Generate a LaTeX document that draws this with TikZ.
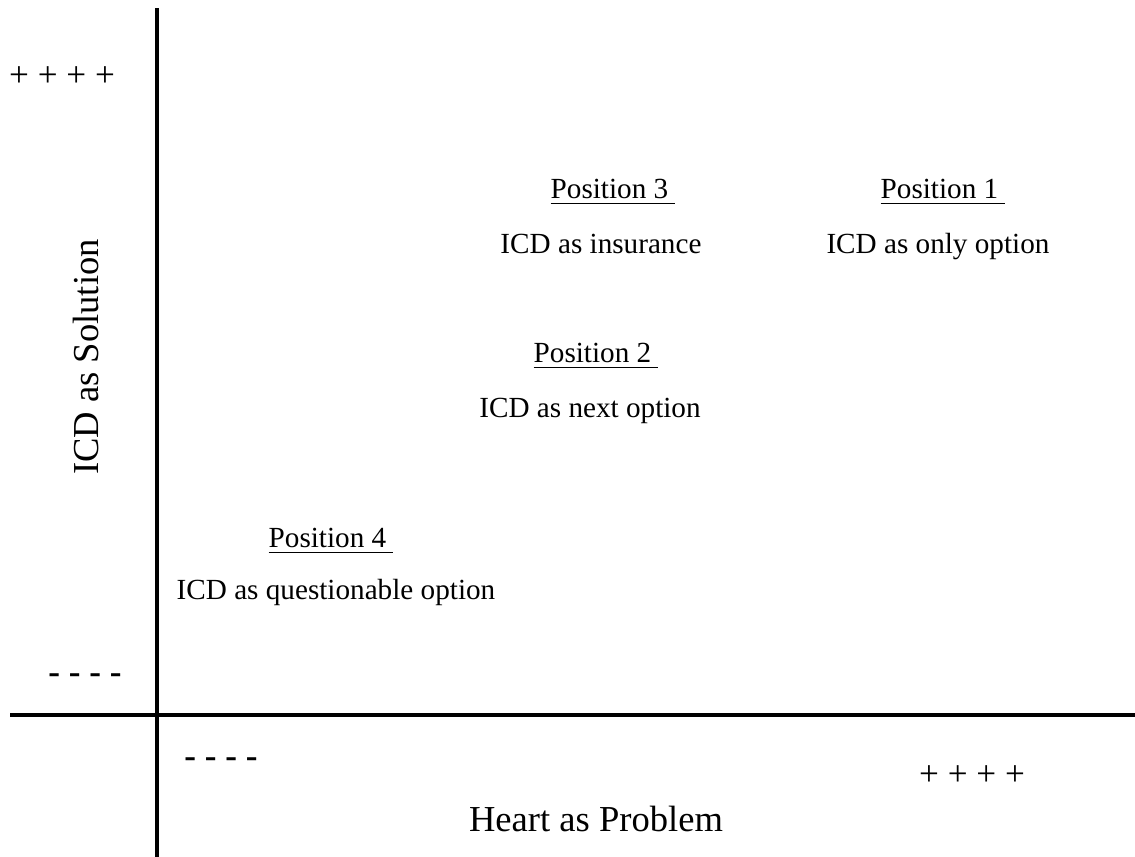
\documentclass[tikz,border=0pt]{standalone}
\usepackage{fontspec}
\setmainfont{Liberation Serif}
\begin{document}
\begin{tikzpicture}[x=0.01cm,y=-0.01cm,
  lbl/.style={inner sep=0pt,anchor=base,font=\fontsize{8.3}{10}\selectfont},
  big/.style={inner sep=0pt,font=\fontsize{10.4}{12}\selectfont},
  sym/.style={inner sep=0pt,font=\fontsize{10}{12}\selectfont},
  axis/.style={line width=0.95pt}]
\useasboundingbox (0,0) rectangle (1135,857);
\coordinate (vtop) at (157,8);
\coordinate (vbot) at (157,857);
\coordinate (hl) at (10,715);
\coordinate (hr) at (1135,715);
\draw[axis] (vtop) -- (vbot);
\draw[axis] (hl) -- (hr);
\node[sym] (pt) at (62,77) {+ + + +};
\node[sym] (pb) at (972,776) {+ + + +};
\node[sym,font=\fontsize{10}{12}\selectfont\bfseries] (mt) at (85,679) {- - - -};
\node[sym,font=\fontsize{10}{12}\selectfont\bfseries] (mb) at (221,763) {- - - -};
\node[big,rotate=90] (ylab) at (86,357) {ICD as Solution};
\node[big,anchor=base] (xlab) at (596,831) {Heart as Problem};
\node[lbl] (p3) at (613,198) {\underline{Position 3\hspace{2pt}}};
\node[lbl] (t3) at (601,253) {ICD as insurance};
\node[lbl] (p1) at (943,198) {\underline{Position 1\hspace{2pt}}};
\node[lbl] (t1) at (938,253) {ICD as only option};
\node[lbl] (p2) at (596,362) {\underline{Position 2\hspace{2pt}}};
\node[lbl] (t2) at (590,417) {ICD as next option};
\node[lbl] (p4) at (331,547) {\underline{Position 4\hspace{2pt}}};
\node[lbl] (t4) at (336,599) {ICD as questionable option};
\end{tikzpicture}
\end{document}
